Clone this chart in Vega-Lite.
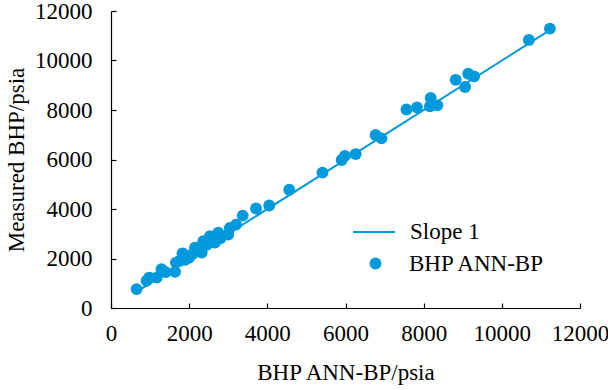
{
  "$schema": "https://vega.github.io/schema/vega-lite/v6.json",
  "width": 469,
  "height": 297,
  "autosize": {"type": "none"},
  "padding": {"left": 111, "top": 11, "right": 28, "bottom": 82},
  "config": {
    "view": {"stroke": null},
    "font": "Liberation Serif",
    "axis": {
      "grid": false,
      "domainColor": "#000000",
      "domainWidth": 1.2,
      "tickColor": "#000000",
      "tickWidth": 1.2,
      "tickSize": -5,
      "labelFont": "Liberation Serif",
      "labelFontSize": 23,
      "labelColor": "#000000",
      "labelOverlap": false,
      "labelFlush": false,
      "format": "d",
      "titleFont": "Liberation Serif",
      "titleFontSize": 23,
      "titleFontWeight": "normal",
      "titleColor": "#000000"
    }
  },
  "datasets": {
    "line": [
      {"x": 620, "y": 620},
      {"x": 11300, "y": 11300}
    ],
    "points": [
      {"x": 11230, "y": 11290},
      {"x": 10690, "y": 10830},
      {"x": 9290, "y": 9360},
      {"x": 9140, "y": 9465},
      {"x": 9060, "y": 8930},
      {"x": 8820, "y": 9220},
      {"x": 8350, "y": 8190},
      {"x": 8180, "y": 8490},
      {"x": 8160, "y": 8150},
      {"x": 7830, "y": 8100},
      {"x": 7560, "y": 8020},
      {"x": 6920, "y": 6855},
      {"x": 6770, "y": 6990},
      {"x": 6260, "y": 6220},
      {"x": 5985, "y": 6145},
      {"x": 5900, "y": 5980},
      {"x": 5410, "y": 5470},
      {"x": 4560, "y": 4780},
      {"x": 4050, "y": 4140},
      {"x": 3710, "y": 4020},
      {"x": 3370, "y": 3735},
      {"x": 3200, "y": 3370},
      {"x": 3040, "y": 3240},
      {"x": 3000, "y": 2970},
      {"x": 2800, "y": 2820},
      {"x": 2745, "y": 3040},
      {"x": 2660, "y": 2640},
      {"x": 2600, "y": 2750},
      {"x": 2530, "y": 2900},
      {"x": 2450, "y": 2550},
      {"x": 2360, "y": 2700},
      {"x": 2320, "y": 2240},
      {"x": 2250, "y": 2350},
      {"x": 2150, "y": 2440},
      {"x": 2100, "y": 2200},
      {"x": 2000, "y": 2035},
      {"x": 1900, "y": 1950},
      {"x": 1830, "y": 2210},
      {"x": 1750, "y": 1900},
      {"x": 1660, "y": 1835},
      {"x": 1640, "y": 1460},
      {"x": 1400, "y": 1450},
      {"x": 1290, "y": 1565},
      {"x": 1170, "y": 1230},
      {"x": 980, "y": 1230},
      {"x": 910, "y": 1100},
      {"x": 655, "y": 763}
    ]
  },
  "layer": [
    {
      "data": {"name": "line"},
      "mark": {"type": "line", "strokeWidth": 2},
      "encoding": {
        "x": {
          "field": "x", "type": "quantitative",
          "scale": {"domain": [0, 12000], "nice": false},
          "axis": {"values": [0, 2000, 4000, 6000, 8000, 10000, 12000], "title": "BHP ANN-BP/psia", "labelPadding": 19, "titlePadding": 16}
        },
        "y": {
          "field": "y", "type": "quantitative",
          "scale": {"domain": [0, 12000], "nice": false},
          "axis": {"values": [0, 2000, 4000, 6000, 8000, 10000, 12000], "title": "Measured BHP/psia", "labelPadding": 24, "titlePadding": 6}
        },
        "stroke": {
          "datum": "Slope 1",
          "scale": {"range": ["#0099DB"]},
          "legend": {
            "orient": "none", "legendX": 241, "legendY": 199, "title": null,
            "symbolType": "stroke", "symbolSize": 1764, "symbolStrokeWidth": 2,
            "labelFont": "Liberation Serif", "labelFontSize": 23, "labelColor": "#000000", "labelOffset": 14, "padding": 0
          }
        }
      }
    },
    {
      "data": {"name": "points"},
      "mark": {"type": "point", "filled": true, "size": 140, "opacity": 1},
      "encoding": {
        "x": {"field": "x", "type": "quantitative"},
        "y": {"field": "y", "type": "quantitative"},
        "fill": {
          "datum": "BHP ANN-BP",
          "scale": {"range": ["#0099DB"]},
          "legend": {
            "orient": "none", "legendX": 253, "legendY": 241, "title": null,
            "symbolType": "circle", "symbolSize": 140, "symbolStrokeWidth": 0, "symbolFillColor": "#0099DB",
            "labelFont": "Liberation Serif", "labelFontSize": 23, "labelColor": "#000000", "labelOffset": 22, "padding": 0
          }
        }
      }
    }
  ]
}
